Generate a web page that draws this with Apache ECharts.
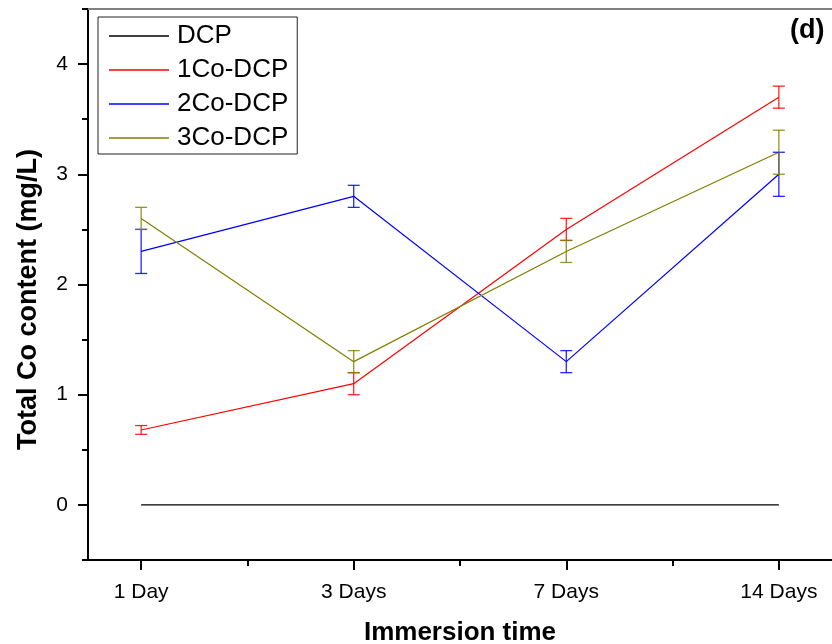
<!DOCTYPE html>
<html>
<head>
<meta charset="utf-8">
<script src="https://cdn.jsdelivr.net/npm/echarts@6/dist/echarts.min.js"></script>
<style>
  html, body { margin: 0; padding: 0; background: #fff; }
  #chart { width: 832px; height: 644px; }
</style>
</head>
<body>
<div id="chart"></div>
<script>
// --- data ---
const days = ['1 Day', '3 Days', '7 Days', '14 Days'];
const dayPos = [0, 1, 2, 3];
const dcp = [0, 0, 0, 0];
const co1 = [0.68, 1.1, 2.5, 3.7];
const co1Err = [0.04, 0.1, 0.1, 0.1];
const co2 = [2.3, 2.8, 1.3, 3.0];
const co2Err = [0.2, 0.1, 0.1, 0.2];
const co3 = [2.6, 1.3, 2.3, 3.2];
const co3Err = [0.1, 0.1, 0.1, 0.2];
const yMajor = [0, 1, 2, 3, 4];
const yMinor = [-0.5, 0.5, 1.5, 2.5, 3.5, 4.5];
const xMinor = [0.5, 1.5, 2.5];

const FONT = 'Arial, "Liberation Sans", sans-serif';

function pts(vals) { return vals.map((v, i) => [dayPos[i], v]); }
function errPts(vals, errs) { return vals.map((v, i) => [dayPos[i], v - errs[i], v + errs[i]]); }

function lineSeries(name, vals, color) {
    return {
        name: name, type: 'line', data: pts(vals), symbol: 'none',
        lineStyle: { color: color, width: 1.2 }, itemStyle: { color: color },
        animation: false, z: 3
    };
}

// error bars drawn through the axis scales (api.coord)
function errSeries(name, vals, errs, color) {
    return {
        name: name, type: 'custom', data: errPts(vals, errs),
        encode: { x: 0, y: [1, 2] }, animation: false, z: 4,
        renderItem: function (params, api) {
            const lo = api.coord([api.value(0), api.value(1)]);
            const hi = api.coord([api.value(0), api.value(2)]);
            const w = 6;
            const style = { stroke: color, lineWidth: 1.3, opacity: 0.85 };
            return {
                type: 'group',
                children: [
                    { type: 'line', shape: { x1: lo[0], y1: lo[1], x2: hi[0], y2: hi[1] }, style: style },
                    { type: 'line', shape: { x1: lo[0] - w, y1: lo[1], x2: lo[0] + w, y2: lo[1] }, style: style },
                    { type: 'line', shape: { x1: hi[0] - w, y1: hi[1], x2: hi[0] + w, y2: hi[1] }, style: style }
                ]
            };
        }
    };
}

const chart = echarts.init(document.getElementById('chart'));

const xBase = { type: 'value', min: -0.25, max: 3.25, splitLine: { show: false } };
const yBase = { type: 'value', min: -0.5, max: 4.5, interval: 0.5, splitLine: { show: false } };

chart.setOption({
    backgroundColor: '#fff',
    grid: { left: 88, right: 0, top: 9, bottom: 84, containLabel: false, outerBoundsMode: 'none' },
    legend: {
        orient: 'vertical', left: 98, top: 17,
        data: ['DCP', '1Co-DCP', '2Co-DCP', '3Co-DCP'],
        icon: 'rect', itemWidth: 60, itemHeight: 1.3, itemGap: 8,
        padding: [6, 9, 3, 11],
        borderColor: '#222', borderWidth: 1,
        textStyle: { fontFamily: FONT, fontSize: 26, color: '#000', lineHeight: 26, padding: [0, 0, 0, 3] }
    },
    xAxis: [
        Object.assign({}, xBase, {
            position: 'bottom',
            name: 'Immersion time', nameLocation: 'middle', nameGap: 60,
            nameTextStyle: { fontFamily: FONT, fontSize: 26, fontWeight: 'bold', color: '#000' },
            axisLine: { onZero: false, lineStyle: { color: '#000', width: 2 } },
            axisTick: { customValues: dayPos, length: 10, lineStyle: { color: '#000', width: 2 } },
            axisLabel: {
                customValues: dayPos, margin: 22,
                fontFamily: FONT, fontSize: 21, color: '#000',
                formatter: v => days[Math.round(v)]
            }
        }),
        Object.assign({}, xBase, {
            position: 'bottom',
            axisLine: { show: false, onZero: false },
            axisTick: { customValues: xMinor, length: 6, lineStyle: { color: '#000', width: 2 } },
            axisLabel: { show: false }
        }),
        Object.assign({}, xBase, {
            position: 'top',
            axisLine: { onZero: false, lineStyle: { color: '#808080', width: 2 } },
            axisTick: { show: false },
            axisLabel: { show: false }
        })
    ],
    yAxis: [
        Object.assign({}, yBase, {
            position: 'left',
            name: 'Total Co content (mg/L)', nameLocation: 'middle', nameGap: 46,
            nameTextStyle: { fontFamily: FONT, fontSize: 27, fontWeight: 'bold', color: '#000', padding: [0, 30, 0, 0] },
            axisLine: { onZero: false, lineStyle: { color: '#000', width: 2 } },
            axisTick: { customValues: yMajor, length: 10, lineStyle: { color: '#000', width: 2 } },
            axisLabel: { customValues: yMajor, margin: 20, fontFamily: FONT, fontSize: 21, color: '#000' }
        }),
        Object.assign({}, yBase, {
            position: 'left',
            axisLine: { show: false, onZero: false },
            axisTick: { customValues: yMinor, length: 6, lineStyle: { color: '#000', width: 2 } },
            axisLabel: { show: false }
        })
    ],
    graphic: [{
        type: 'text', left: 790, top: 17,
        style: { text: '(d)', font: 'bold 27px ' + FONT, fill: '#000' }
    }],
    series: [
        lineSeries('DCP', dcp, '#000000'),
        lineSeries('1Co-DCP', co1, '#ff0000'),
        lineSeries('2Co-DCP', co2, '#0000ff'),
        lineSeries('3Co-DCP', co3, '#808000'),
        errSeries('1Co-DCP err', co1, co1Err, '#ff0000'),
        errSeries('2Co-DCP err', co2, co2Err, '#0000ff'),
        errSeries('3Co-DCP err', co3, co3Err, '#808000')
    ]
});
</script>
</body>
</html>
